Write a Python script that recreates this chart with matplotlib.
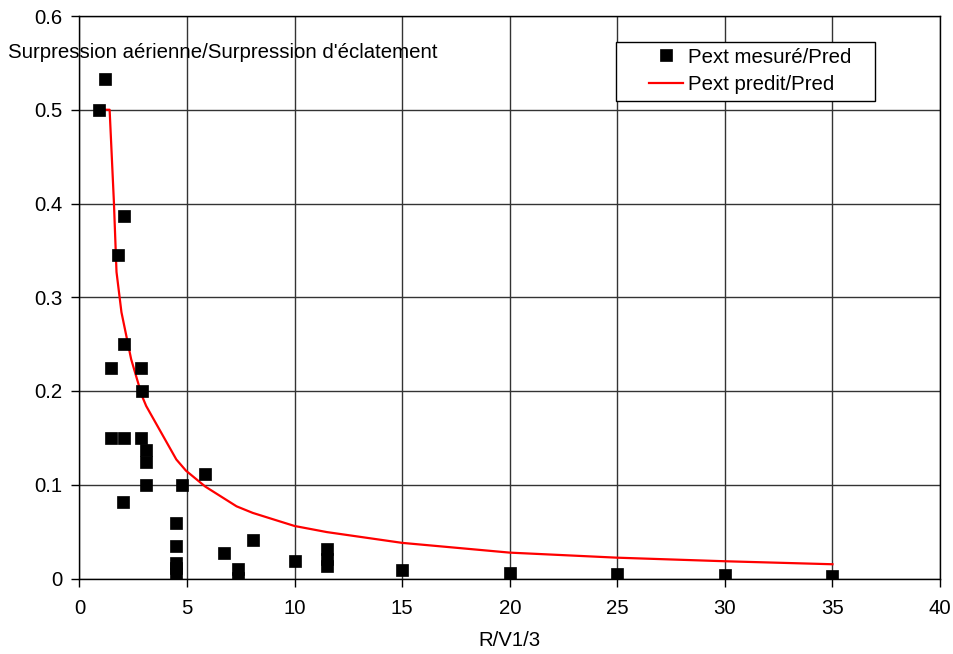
import matplotlib.pyplot as plt
from matplotlib.patches import Rectangle

# measured points (R/V^1/3, Pext/Pred)
mes_x = [0.9, 1.2, 2.05, 1.8, 2.05, 1.45, 2.85, 2.9, 1.45, 2.05, 2.85, 3.1, 3.1, 3.1,
         4.75, 2.0, 5.85, 4.5, 4.5, 4.5, 4.5, 4.5, 6.7, 8.05, 7.35, 7.35,
         10.0, 11.5, 11.5, 11.5, 15.0, 20.0, 25.0, 30.0, 35.0]
mes_y = [0.5, 0.533, 0.387, 0.345, 0.25, 0.225, 0.225, 0.2, 0.15, 0.15, 0.15, 0.137, 0.124, 0.1,
         0.1, 0.082, 0.111, 0.059, 0.035, 0.017, 0.011, 0.005, 0.027, 0.041, 0.01, 0.001,
         0.019, 0.031, 0.021, 0.013, 0.0095, 0.0056, 0.0046, 0.0037, 0.0027]

# predicted curve
pred_x = [0.9, 1.4, 1.6, 1.72, 1.95, 2.4, 2.9, 3.1, 4.5, 4.95, 5.85, 7.3, 8.05, 9.3,
          10.0, 11.5, 15.0, 20.0, 25.0, 30.0, 35.0]
pred_y = [0.5, 0.5, 0.401, 0.327, 0.284, 0.234, 0.195, 0.184, 0.127, 0.115, 0.098, 0.077,
          0.070, 0.061, 0.056, 0.0495, 0.038, 0.0276, 0.0222, 0.0184, 0.0152]

plt.rcParams['font.family'] = ['Liberation Sans', 'DejaVu Sans']
FS = 14.7

fig = plt.figure(figsize=(9.54, 6.54), dpi=100)
ax = fig.add_axes([79.5 / 954, 1 - 578.5 / 654, 860.5 / 954, 562.5 / 654])

ax.plot(pred_x, pred_y, color='red', lw=1.6, label='Pext predit/Pred', zorder=3)
ax.plot(mes_x, mes_y, 's', color='black', ms=8, mew=0.5, label='Pext mesuré/Pred',
        zorder=4, linestyle='none')

ax.set_xlim(0, 40)
ax.set_ylim(0, 0.6)
ax.set_xticks(range(0, 41, 5))
ax.set_yticks([0, 0.1, 0.2, 0.3, 0.4, 0.5, 0.6])
ax.set_yticklabels(['0', '0.1', '0.2', '0.3', '0.4', '0.5', '0.6'])
ax.tick_params(labelsize=FS, length=6, width=1, color='black')
ax.tick_params(axis='x', pad=9)
ax.tick_params(axis='y', pad=6)
ax.grid(True, color='#333333', lw=1)
ax.set_axisbelow(True)
for s in ax.spines.values():
    s.set_color('black')
    s.set_linewidth(1)

ax.set_xlabel('R/V1/3', fontsize=FS, labelpad=9)
fig.text(8 / 954, 1 - 53 / 654, "Surpression aérienne/Surpression d'éclatement",
         fontsize=FS, va='center', ha='left')

# legend box
ax.add_patch(Rectangle((0.624, 0.849), 0.301, 0.1054, transform=ax.transAxes,
                       facecolor='white', edgecolor='black', lw=1, zorder=5))
h, l = ax.get_legend_handles_labels()
leg = ax.legend([h[1], h[0]], [l[1], l[0]], loc='center left', bbox_to_anchor=(0.662, 0.9024),
                frameon=False, fontsize=FS, borderpad=0, borderaxespad=0,
                handlelength=1.67, handletextpad=0.25, labelspacing=0.43)
leg.set_zorder(6)

fig.savefig('out.png', dpi=100)
